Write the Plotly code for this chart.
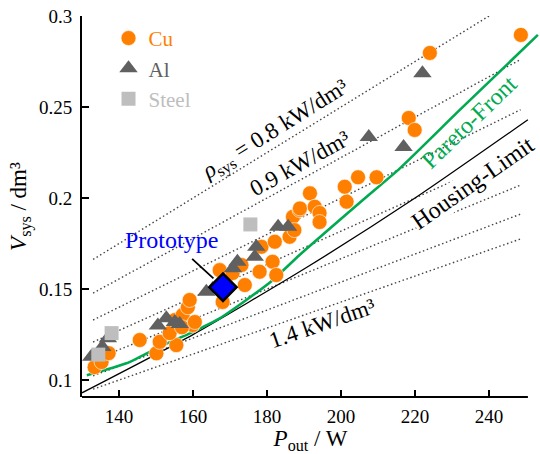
import plotly.graph_objects as go

# ---------------- data ----------------
cu_p = [133.4, 135.3, 137.2, 145.6, 150.1, 151.0, 155.5, 153.7, 155.1, 157.2, 158.6, 159.9, 159.1,
        157.0, 160.5, 168.0, 167.2, 170.7, 174.0, 173.1, 178.0, 181.5, 182.5, 178.5, 182.1, 186.1,
        187.0, 188.8, 191.6, 188.9, 192.9, 194.2, 187.4, 194.2, 201.0, 204.6, 209.6, 201.5,
        218.3, 219.9, 224.0, 248.6]
cu_v = [0.1071, 0.1099, 0.1148, 0.1220, 0.1147, 0.1210, 0.1192, 0.1258, 0.1330, 0.1357, 0.1400, 0.1302, 0.1440,
        0.1290, 0.1319, 0.1429, 0.1604, 0.1588, 0.1522, 0.1632, 0.1595, 0.1650, 0.1577, 0.1732, 0.1760, 0.1787,
        0.1897, 0.1934, 0.2026, 0.1943, 0.1952, 0.1918, 0.1824, 0.1868, 0.2062, 0.2114, 0.2114, 0.1980,
        0.2440, 0.2374, 0.2797, 0.2896]

al_p = [132.5, 135.5, 137.0, 150.5, 152.8, 155.1, 156.4, 163.6, 165.3, 170.8, 172.0, 176.7, 177.1,
        183.0, 185.7, 207.5, 216.9, 222.0]
al_v = [0.1128, 0.1181, 0.1230, 0.1300, 0.1340, 0.1319, 0.1308, 0.1485, 0.1500, 0.1614, 0.1650, 0.1677, 0.1732,
        0.1842, 0.1842, 0.2335, 0.2280, 0.2685]

steel_p = [134.4, 138.0, 175.5]
steel_v = [0.1140, 0.1258, 0.1855]

proto_p = [168.1]
proto_v = [0.151]

pareto_p = [131.3, 142.0, 151.0, 160.0, 167.2, 174.4, 181.6, 188.8, 205.9, 215.9, 232.1, 253.2]
pareto_v = [0.1027, 0.1092, 0.1183, 0.1265, 0.1339, 0.1440, 0.1550, 0.1687, 0.1989, 0.2163, 0.2484, 0.2896]

housing_p = [130.0, 160.0, 190.0, 220.0, 250.5]
housing_v = [0.0930, 0.1250, 0.1610, 0.2000, 0.2430]

rho_levels = [0.8, 0.9, 1.0, 1.1, 1.2, 1.3, 1.4]   # kW/dm^3
rho_p_span = [133.0, 248.5]                          # W

x_ticks = [140, 160, 180, 200, 220, 240]
y_ticks = [0.1, 0.15, 0.2, 0.25, 0.3]
y_ticktext = ["0.1", "0.15", "0.2", "0.25", "0.3"]

CU = "#FF8000"
AL = "#606060"
ST = "#BEBEBE"
GREEN = "#00AA50"
FONT = "Liberation Serif"

fig = go.Figure()

# constant power density lines
for rho in rho_levels:
    fig.add_trace(go.Scatter(
        x=rho_p_span, y=[p / (rho * 1000.0) for p in rho_p_span],
        mode="lines", line=dict(color="#444444", width=1.4, dash="1.5px,2.6px"),
        showlegend=False, hoverinfo="skip"))

fig.add_trace(go.Scatter(x=housing_p, y=housing_v, mode="lines",
                         line=dict(color="black", width=1.3, shape="spline", smoothing=0.6),
                         showlegend=False, hoverinfo="skip"))
fig.add_trace(go.Scatter(x=pareto_p, y=pareto_v, mode="lines",
                         line=dict(color=GREEN, width=2.6, shape="spline", smoothing=0.6),
                         showlegend=False, hoverinfo="skip"))

fig.add_trace(go.Scatter(x=cu_p, y=cu_v, mode="markers",
                         name="<span style='color:%s'>Cu</span>" % CU,
                         marker=dict(symbol="circle", size=15, color=CU,
                                     line=dict(color="white", width=0.6))))
fig.add_trace(go.Scatter(x=al_p, y=al_v, mode="markers",
                         name="<span style='color:%s'>Al</span>" % AL,
                         marker=dict(symbol="triangle-up", size=16, color=AL,
                                     line=dict(width=0))))
fig.add_trace(go.Scatter(x=steel_p, y=steel_v, mode="markers",
                         name="<span style='color:%s'>Steel</span>" % ST,
                         marker=dict(symbol="square", size=14, color=ST,
                                     line=dict(width=0))))
fig.add_trace(go.Scatter(x=proto_p, y=proto_v, mode="markers", showlegend=False,
                         marker=dict(symbol="diamond", size=21, color="#0000FF",
                                     line=dict(color="black", width=2.5))))

ann = []
ann.append(dict(x=proto_p[0], y=proto_v[0], xref="x", yref="y", text="Prototype",
                showarrow=True, ax=-51, ay=-47, arrowhead=0, arrowwidth=1.8,
                arrowcolor="black", standoff=13, startstandoff=6,
                font=dict(family=FONT, size=24, color="#0000FF")))
ann.append(dict(x=182.4, y=0.2372, xref="x", yref="y", showarrow=False, textangle=-32,
                text="<i>ρ</i><sub>sys</sub> = 0.8 kW/dm³",
                font=dict(family=FONT, size=23, color="black")))
ann.append(dict(x=188.9, y=0.2187, xref="x", yref="y", showarrow=False, textangle=-29,
                text="0.9 kW/dm³", font=dict(family=FONT, size=23, color="black")))
ann.append(dict(x=194.8, y=0.1313, xref="x", yref="y", showarrow=False, textangle=-19,
                text="1.4 kW/dm³", font=dict(family=FONT, size=23, color="black")))
ann.append(dict(x=235.5, y=0.2085, xref="x", yref="y", showarrow=False, textangle=-35,
                text="Housing-Limit", bgcolor="white", borderpad=0,
                font=dict(family=FONT, size=24, color="black")))
ann.append(dict(x=234.6, y=0.2420, xref="x", yref="y", showarrow=False, textangle=-44,
                text="Pareto-Front", font=dict(family=FONT, size=24, color=GREEN)))

fig.update_layout(
    width=540, height=454,
    margin=dict(l=82, r=1, t=16, b=57),
    plot_bgcolor="white", paper_bgcolor="white",
    font=dict(family=FONT, size=19, color="black"),
    showlegend=True,
    legend=dict(x=0.058, y=0.995, xanchor="left", yanchor="top",
                bgcolor="rgba(0,0,0,0)", font=dict(family=FONT, size=21),
                itemsizing="trace", traceorder="normal"),
    annotations=ann,
    shapes=[dict(type="line", xref="x", yref="paper", x0=130, x1=250.5, y0=0, y1=0,
                 line=dict(color="black", width=2), layer="above")],
)
fig.update_xaxes(range=[130, 253.5], tickvals=x_ticks, ticks="inside", ticklen=7, tickwidth=2,
                 tickcolor="black", showline=False, showgrid=False, zeroline=False,
                 ticklabelstandoff=6,
                 title=dict(text="<i>P</i><sub>out</sub> / W", font=dict(size=23), standoff=4))
fig.update_yaxes(range=[0.0907, 0.3], tickvals=y_ticks, ticktext=y_ticktext, ticks="inside",
                 ticklen=7, tickwidth=2, tickcolor="black", showline=True, linewidth=2,
                 linecolor="black", showgrid=False, zeroline=False, ticklabelstandoff=4,
                 title=dict(text="<i>V</i><sub>sys</sub> / dm³", font=dict(size=23), standoff=6))

fig.write_html("out.html")
